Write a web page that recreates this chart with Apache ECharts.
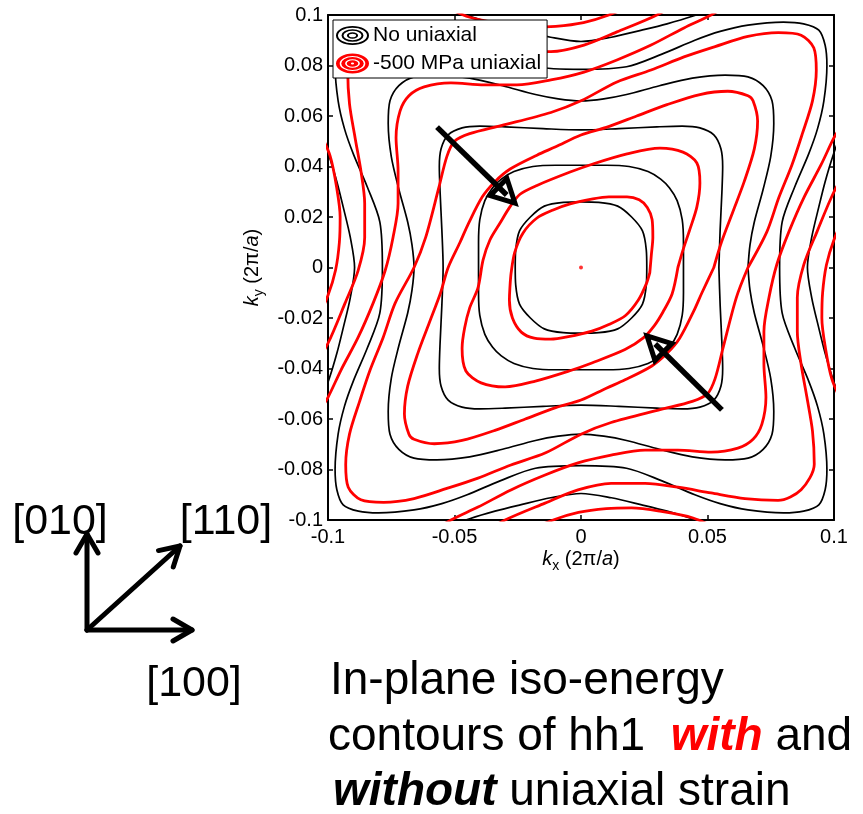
<!DOCTYPE html>
<html>
<head>
<meta charset="utf-8">
<script src="https://cdn.jsdelivr.net/npm/echarts@6/dist/echarts.min.js"></script>
<style>
  html, body { margin: 0; padding: 0; background: #fff; }
  #chart { width: 863px; height: 814px; }
</style>
</head>
<body>
<div id="chart"></div>
<script>
// ---- axes ----
const kRange = [-0.1, 0.1];
const xTickStep = 0.05;
const yTickStep = 0.02;

// ---- iso-energy contours of hh1, no uniaxial stress (kx, ky in 2π/a) ----
const noStressE1 = [[0.026,0],[0.0258,0.007],[0.0243,0.0145],[0.020,0.020],[0.0145,0.0243],[0.007,0.0258],[0,0.026],[-0.007,0.0258],[-0.0145,0.0243],[-0.020,0.020],[-0.0243,0.0145],[-0.0258,0.007],[-0.026,0],[-0.0258,-0.007],[-0.0243,-0.0145],[-0.020,-0.020],[-0.0145,-0.0243],[-0.007,-0.0258],[0,-0.026],[0.007,-0.0258],[0.0145,-0.0243],[0.020,-0.020],[0.0243,-0.0145],[0.0258,-0.007],[0.026,0]];
const noStressE2 = [[0.0405,0],[0.0405,0.010],[0.0400,0.019],[0.0380,0.0265],[0.0350,0.0315],[0.0315,0.0350],[0.0265,0.0380],[0.019,0.0400],[0.010,0.0405],[0,0.0405],[-0.010,0.0405],[-0.019,0.0400],[-0.0265,0.0380],[-0.0315,0.0350],[-0.0350,0.0315],[-0.0380,0.0265],[-0.0400,0.019],[-0.0405,0.010],[-0.0405,0],[-0.0405,-0.010],[-0.0400,-0.019],[-0.0380,-0.0265],[-0.0350,-0.0315],[-0.0315,-0.0350],[-0.0265,-0.0380],[-0.019,-0.0400],[-0.010,-0.0405],[0,-0.0405],[0.010,-0.0405],[0.019,-0.0400],[0.0265,-0.0380],[0.0315,-0.0350],[0.0350,-0.0315],[0.0380,-0.0265],[0.0400,-0.019],[0.0405,-0.010],[0.0405,0]];
const noStressE3 = [[0.0545,0],[0.0550,0.015],[0.0557,0.030],[0.0560,0.040],[0.0553,0.047],[0.0525,0.0525],[0.047,0.0553],[0.040,0.0560],[0.030,0.0557],[0.015,0.0550],[0,0.0545],[-0.015,0.0550],[-0.030,0.0557],[-0.040,0.0560],[-0.047,0.0553],[-0.0525,0.0525],[-0.0553,0.047],[-0.0560,0.040],[-0.0557,0.030],[-0.0550,0.015],[-0.0545,0],[-0.0550,-0.015],[-0.0557,-0.030],[-0.0560,-0.040],[-0.0553,-0.047],[-0.0525,-0.0525],[-0.047,-0.0553],[-0.040,-0.0560],[-0.030,-0.0557],[-0.015,-0.0550],[0,-0.0545],[0.015,-0.0550],[0.030,-0.0557],[0.040,-0.0560],[0.047,-0.0553],[0.0525,-0.0525],[0.0553,-0.047],[0.0560,-0.040],[0.0557,-0.030],[0.0550,-0.015],[0.0545,0]];
const noStressE4 = [[0.066,0],[0.0668,0.009],[0.0685,0.018],[0.072,0.031],[0.075,0.044],[0.0762,0.057],[0.0755,0.066],[0.072,0.072],[0.066,0.0755],[0.057,0.0762],[0.044,0.075],[0.031,0.072],[0.018,0.0685],[0.009,0.0668],[0,0.066],[-0.009,0.0668],[-0.018,0.0685],[-0.031,0.072],[-0.044,0.075],[-0.057,0.0762],[-0.066,0.0755],[-0.072,0.072],[-0.0755,0.066],[-0.0762,0.057],[-0.075,0.044],[-0.072,0.031],[-0.0685,0.018],[-0.0668,0.009],[-0.066,0],[-0.0668,-0.009],[-0.0685,-0.018],[-0.072,-0.031],[-0.075,-0.044],[-0.0762,-0.057],[-0.0755,-0.066],[-0.072,-0.072],[-0.066,-0.0755],[-0.057,-0.0762],[-0.044,-0.075],[-0.031,-0.072],[-0.018,-0.0685],[-0.009,-0.0668],[0,-0.066],[0.009,-0.0668],[0.018,-0.0685],[0.031,-0.072],[0.044,-0.075],[0.057,-0.0762],[0.066,-0.0755],[0.072,-0.072],[0.0755,-0.066],[0.0762,-0.057],[0.075,-0.044],[0.072,-0.031],[0.0685,-0.018],[0.0668,-0.009],[0.066,0]];
const noStressE5 = [[0.0785,0],[0.0795,0.018],[0.0845,0.032],[0.090,0.045],[0.0935,0.055],[0.0960,0.066],[0.0972,0.080],[0.0965,0.088],[0.094,0.094],[0.088,0.0965],[0.080,0.0972],[0.066,0.0960],[0.055,0.0935],[0.045,0.090],[0.032,0.0845],[0.018,0.0795],[0,0.0785],[-0.018,0.0795],[-0.032,0.0845],[-0.045,0.090],[-0.055,0.0935],[-0.066,0.0960],[-0.080,0.0972],[-0.088,0.0965],[-0.094,0.094],[-0.0965,0.088],[-0.0972,0.080],[-0.0960,0.066],[-0.0935,0.055],[-0.090,0.045],[-0.0845,0.032],[-0.0795,0.018],[-0.0785,0],[-0.0795,-0.018],[-0.0845,-0.032],[-0.090,-0.045],[-0.0935,-0.055],[-0.0960,-0.066],[-0.0972,-0.080],[-0.0965,-0.088],[-0.094,-0.094],[-0.088,-0.0965],[-0.080,-0.0972],[-0.066,-0.0960],[-0.055,-0.0935],[-0.045,-0.090],[-0.032,-0.0845],[-0.018,-0.0795],[0,-0.0785],[0.018,-0.0795],[0.032,-0.0845],[0.045,-0.090],[0.055,-0.0935],[0.066,-0.0960],[0.080,-0.0972],[0.088,-0.0965],[0.094,-0.094],[0.0965,-0.088],[0.0972,-0.080],[0.0960,-0.066],[0.0935,-0.055],[0.090,-0.045],[0.0845,-0.032],[0.0795,-0.018],[0.0785,0]];
const noStressE6Right = [[0.1035,-0.055],[0.0995,-0.044],[0.0965,-0.034],[0.094,-0.024],[0.0912,-0.012],[0.0895,0],[0.0912,0.012],[0.094,0.024],[0.0965,0.034],[0.0995,0.044],[0.1035,0.055]];
const noStressE6Left = [[-0.1035,-0.055],[-0.0995,-0.044],[-0.0965,-0.034],[-0.094,-0.024],[-0.0912,-0.012],[-0.0895,0],[-0.0912,0.012],[-0.094,0.024],[-0.0965,0.034],[-0.0995,0.044],[-0.1035,0.055]];
const noStressE6Top = [[-0.055,0.1035],[-0.044,0.0995],[-0.034,0.0965],[-0.024,0.094],[-0.012,0.0912],[0,0.0895],[0.012,0.0912],[0.024,0.094],[0.034,0.0965],[0.044,0.0995],[0.055,0.1035]];
const noStressE6Bottom = [[-0.055,-0.1035],[-0.044,-0.0995],[-0.034,-0.0965],[-0.024,-0.094],[-0.012,-0.0912],[0,-0.0895],[0.012,-0.0912],[0.024,-0.094],[0.034,-0.0965],[0.044,-0.0995],[0.055,-0.1035]];

// ---- iso-energy contours of hh1 under -500 MPa uniaxial stress ----
const stressE0 = [[0, 0]];
const stressE1 = [[0.0272,-0.0020],[0.0278,0.0050],[0.0284,0.0120],[0.0281,0.0190],[0.0262,0.0238],[0.0230,0.0268],[0.0182,0.0280],[0.0110,0.0280],[0.0047,0.0272],[-0.0043,0.0252],[-0.0110,0.0228],[-0.0174,0.0196],[-0.0229,0.0137],[-0.0262,0.0060],[-0.0276,-0.0020],[-0.0281,-0.0080],[-0.0283,-0.0130],[-0.0271,-0.0200],[-0.0236,-0.0256],[-0.0185,-0.0280],[-0.0120,-0.0284],[-0.0050,-0.0274],[0.0043,-0.0252],[0.0110,-0.0226],[0.0176,-0.0190],[0.0226,-0.0130],[0.0258,-0.0065],[0.0272,-0.0020]];
const stressE2 = [[0.0383,0.0000],[0.0403,0.0069],[0.0430,0.0150],[0.0458,0.0240],[0.0470,0.0335],[0.0458,0.0414],[0.0403,0.0457],[0.0312,0.0473],[0.0182,0.0450],[0.0047,0.0410],[-0.0043,0.0378],[-0.0174,0.0325],[-0.0241,0.0290],[-0.0281,0.0240],[-0.0320,0.0176],[-0.0360,0.0109],[-0.0387,0.0030],[-0.0407,-0.0080],[-0.0440,-0.0160],[-0.0460,-0.0240],[-0.0470,-0.0320],[-0.0455,-0.0410],[-0.0395,-0.0457],[-0.0300,-0.0473],[-0.0180,-0.0450],[-0.0047,-0.0410],[0.0043,-0.0378],[0.0174,-0.0325],[0.0245,-0.0280],[0.0290,-0.0230],[0.0324,-0.0176],[0.0360,-0.0105],[0.0383,0.0000]];
const stressE3 = [[0.0525,0],[0.0555,0.010],[0.0600,0.022],[0.0645,0.034],[0.0685,0.047],[0.0698,0.058],[0.0680,0.0660],[0.0660,0.0680],[0.0580,0.0698],[0.0470,0.0685],[0.0340,0.0645],[0.0220,0.0600],[0.0100,0.0555],[0,0.0525],[-0.0100,0.0478],[-0.0174,0.0445],[-0.0280,0.0390],[-0.0340,0.0340],[-0.0390,0.0280],[-0.0445,0.0174],[-0.0478,0.0100],[-0.0525,0],[-0.0555,-0.010],[-0.0600,-0.022],[-0.0645,-0.034],[-0.0685,-0.047],[-0.0698,-0.058],[-0.0680,-0.0660],[-0.0660,-0.0680],[-0.0580,-0.0698],[-0.0470,-0.0685],[-0.0340,-0.0645],[-0.0220,-0.0600],[-0.0100,-0.0555],[0,-0.0525],[0.0100,-0.0478],[0.0174,-0.0445],[0.0280,-0.0390],[0.0340,-0.0340],[0.0390,-0.0280],[0.0445,-0.0174],[0.0478,-0.0100],[0.0525,0]];
const stressE4 = [[0.0660,0],[0.0735,0.0142],[0.0782,0.0277],[0.0834,0.0407],[0.0875,0.0530],[0.0915,0.0660],[0.0930,0.0780],[0.0920,0.0870],[0.0870,0.0920],[0.0780,0.0930],[0.0660,0.0915],[0.0530,0.0875],[0.0407,0.0834],[0.0277,0.0782],[0.0142,0.0735],[0,0.0660],[-0.0119,0.0614],[-0.0316,0.0562],[-0.0440,0.0530],[-0.0500,0.0500],[-0.0530,0.0440],[-0.0562,0.0316],[-0.0614,0.0119],[-0.0660,0],[-0.0735,-0.0142],[-0.0782,-0.0277],[-0.0834,-0.0407],[-0.0875,-0.0530],[-0.0915,-0.0660],[-0.0930,-0.0780],[-0.0920,-0.0870],[-0.0870,-0.0920],[-0.0780,-0.0930],[-0.0660,-0.0915],[-0.0530,-0.0875],[-0.0407,-0.0834],[-0.0277,-0.0782],[-0.0142,-0.0735],[0,-0.0660],[0.0119,-0.0614],[0.0316,-0.0562],[0.0440,-0.0530],[0.0500,-0.0500],[0.0530,-0.0440],[0.0562,-0.0316],[0.0614,-0.0119],[0.0660,0]];
const stressE5Lower = [[-0.0580,-0.1040],[-0.0514,-0.1000],[-0.0407,-0.0949],[-0.0277,-0.0881],[-0.0142,-0.0822],[-0.0012,-0.0774],[0.0119,-0.0743],[0.0253,-0.0723],[0.0383,-0.0723],[0.0514,-0.0731],[0.0620,-0.0715],[0.0680,-0.0680],[0.0715,-0.0620],[0.0731,-0.0514],[0.0723,-0.0383],[0.0723,-0.0253],[0.0743,-0.0119],[0.0774,0.0012],[0.0822,0.0142],[0.0881,0.0277],[0.0949,0.0407],[0.1000,0.0514],[0.1040,0.0580]];
const stressE5Upper = [[0.0580,0.1040],[0.0514,0.1000],[0.0407,0.0949],[0.0277,0.0881],[0.0142,0.0822],[0.0012,0.0774],[-0.0119,0.0743],[-0.0253,0.0723],[-0.0383,0.0723],[-0.0514,0.0731],[-0.0620,0.0715],[-0.0680,0.0680],[-0.0715,0.0620],[-0.0731,0.0514],[-0.0723,0.0383],[-0.0723,0.0253],[-0.0743,0.0119],[-0.0774,-0.0012],[-0.0822,-0.0142],[-0.0881,-0.0277],[-0.0949,-0.0407],[-0.1000,-0.0514],[-0.1040,-0.0580]];
const stressE6Lower = [[-0.0400,-0.1060],[-0.0300,-0.1000],[-0.0142,-0.0933],[-0.0012,-0.0881],[0.0119,-0.0855],[0.0253,-0.0855],[0.0383,-0.0870],[0.0514,-0.0893],[0.0648,-0.0915],[0.0779,-0.0922],[0.0870,-0.0880],[0.0922,-0.0779],[0.0915,-0.0648],[0.0893,-0.0514],[0.0870,-0.0383],[0.0855,-0.0253],[0.0855,-0.0119],[0.0881,0.0012],[0.0933,0.0142],[0.1000,0.0300],[0.1060,0.0400]];
const stressE6Upper = [[0.0400,0.1060],[0.0300,0.1000],[0.0142,0.0933],[0.0012,0.0881],[-0.0119,0.0855],[-0.0253,0.0855],[-0.0383,0.0870],[-0.0514,0.0893],[-0.0648,0.0915],[-0.0779,0.0922],[-0.0870,0.0880],[-0.0922,0.0779],[-0.0915,0.0648],[-0.0893,0.0514],[-0.0870,0.0383],[-0.0855,0.0253],[-0.0855,0.0119],[-0.0881,-0.0012],[-0.0933,-0.0142],[-0.1000,-0.0300],[-0.1060,-0.0400]];
const stressE7Bottom = [[-0.0250,-0.1060],[-0.0110,-0.1000],[-0.0010,-0.0970],[0.0100,-0.0955],[0.0200,-0.0952],[0.0312,-0.0965],[0.0443,-0.0992],[0.0550,-0.1040]];
const stressE7Right = [[0.1060,0.0250],[0.1000,0.0110],[0.0970,0.0010],[0.0955,-0.0100],[0.0952,-0.0200],[0.0965,-0.0312],[0.0992,-0.0443],[0.1040,-0.0550]];
const stressE7Top = [[0.0250,0.1060],[0.0110,0.1000],[0.0010,0.0970],[-0.0100,0.0955],[-0.0200,0.0952],[-0.0312,0.0965],[-0.0443,0.0992],[-0.0550,0.1040]];
const stressE7Left = [[-0.1060,-0.0250],[-0.1000,-0.0110],[-0.0970,-0.0010],[-0.0955,0.0100],[-0.0952,0.0200],[-0.0965,0.0312],[-0.0992,0.0443],[-0.1040,0.0550]];

// ---- arrows drawn on the plot: [tail, tip] in (kx, ky) ----
const plotArrows = [
  [[-0.0569, 0.0556], [-0.0261, 0.0255]],
  [[0.0557, -0.0564], [0.0261, -0.0271]]
];

const seriesNames = ['No uniaxial', '-500 MPa uniaxial'];
const FONT = 'Liberation Sans';

const blackContours = [noStressE1, noStressE2, noStressE3, noStressE4, noStressE5,
  noStressE6Right, noStressE6Left, noStressE6Top, noStressE6Bottom];
const redContours = [stressE1, stressE2, stressE3, stressE4, stressE5Lower, stressE5Upper,
  stressE6Lower, stressE6Upper, stressE7Bottom, stressE7Right, stressE7Top, stressE7Left];

function contourSeries(name, color, width, pts) {
  return {
    type: 'line', name: name, data: pts, smooth: 0.3, showSymbol: false, symbol: 'none',
    clip: true, silent: true, animation: false,
    itemStyle: { color: color },
    lineStyle: { color: color, width: width, cap: 'round', join: 'round' }
  };
}

const series = [];
blackContours.forEach(p => series.push(contourSeries(seriesNames[0], '#000000', 1.7, p)));
redContours.forEach(p => series.push(contourSeries(seriesNames[1], '#ff0000', 2.8, p)));
series.push({
  type: 'scatter', name: seriesNames[1], data: stressE0, symbolSize: 4,
  itemStyle: { color: '#ff0000' }, silent: true, animation: false
});

// concentric-ellipse legend glyphs
function ellipse(cx, cy, rx, ry, cw) {
  const s = cw ? 1 : 0;
  return 'M' + (cx - rx) + ',' + cy + ' A' + rx + ',' + ry + ' 0 1,' + s + ' ' + (cx + rx) + ',' + cy +
         ' A' + rx + ',' + ry + ' 0 1,' + s + ' ' + (cx - rx) + ',' + cy + ' Z ';
}
function rings(cx, cy, list) {
  return 'path://' + list.map(r => ellipse(cx, cy, r[0], r[1], true) + ellipse(cx, cy, r[2], r[3], false)).join('');
}
const blackIcon = rings(16.5, 10, [[16.5, 9.5, 14.5, 7.7], [11, 6.3, 9, 4.7], [5.6, 3.3, 3.6, 1.8]]);
const redIcon = rings(16.5, 10, [[16.5, 10, 12.8, 7.5], [11.3, 6.5, 7.4, 4.2], [5.8, 3.3, 1.6, 1.0]]);

const axisLabelFmt = v => {
  const r = Math.round(v * 100) / 100;
  return r === 0 ? '0' : String(r);
};

const tickStyle = { inside: true, length: 5, lineStyle: { color: '#000', width: 1.5 } };
const lineStyleAxis = { onZero: false, lineStyle: { color: '#000', width: 2 } };
const labelStyle = { color: '#000', fontSize: 20, fontFamily: FONT };

const nameRich = {
  i: { fontStyle: 'italic', fontSize: 20, fontFamily: FONT, lineHeight: 28, color: '#000' },
  s: { fontSize: 14, fontFamily: FONT, lineHeight: 14, verticalAlign: 'bottom', color: '#000' }
};

const chart = echarts.init(document.getElementById('chart'), null, { renderer: 'canvas' });

chart.setOption({
  backgroundColor: '#ffffff',
  animation: false,
  grid: { left: 328, top: 15, width: 506, height: 505, containLabel: false },
  xAxis: [
    {
      type: 'value', min: kRange[0], max: kRange[1], interval: xTickStep, position: 'bottom',
      axisLine: lineStyleAxis, axisTick: tickStyle, splitLine: { show: false },
      axisLabel: Object.assign({ margin: 7, formatter: axisLabelFmt, showMinLabel: true, showMaxLabel: true }, labelStyle),
      name: '{i|k}{s|x} (2π/{i|a})', nameLocation: 'middle', nameGap: 25, nameMoveOverlap: false,
      nameTextStyle: { fontSize: 20, fontFamily: FONT, color: '#000', lineHeight: 28, rich: nameRich }
    },
    {
      type: 'value', min: kRange[0], max: kRange[1], interval: xTickStep, position: 'top',
      axisLine: lineStyleAxis, axisTick: tickStyle, splitLine: { show: false }, axisLabel: { show: false }
    }
  ],
  yAxis: [
    {
      type: 'value', min: kRange[0], max: kRange[1], interval: yTickStep, position: 'left',
      axisLine: lineStyleAxis, axisTick: tickStyle, splitLine: { show: false },
      axisLabel: Object.assign({ margin: 5, formatter: axisLabelFmt, showMinLabel: true, showMaxLabel: true }, labelStyle),
      name: '{i|k}{s|y} (2π/{i|a})', nameLocation: 'middle', nameGap: 62, nameRotate: 90,
      nameTextStyle: { fontSize: 20, fontFamily: FONT, color: '#000', lineHeight: 28, rich: nameRich }
    },
    {
      type: 'value', min: kRange[0], max: kRange[1], interval: yTickStep, position: 'right',
      axisLine: lineStyleAxis, axisTick: tickStyle, splitLine: { show: false }, axisLabel: { show: false }
    }
  ],
  legend: {
    left: 333, top: 20, orient: 'vertical', selectedMode: false,
    itemWidth: 33, itemHeight: 20, itemGap: 7, padding: [5, 6, 4, 3],
    backgroundColor: '#ffffff', borderColor: '#000', borderWidth: 1, borderRadius: 0,
    textStyle: { fontSize: 21, fontFamily: FONT, color: '#000', padding: [0, 0, 0, -1] },
    data: [
      { name: seriesNames[0], icon: blackIcon, itemStyle: { color: '#000', borderWidth: 0 } },
      { name: seriesNames[1], icon: redIcon, itemStyle: { color: '#ff0000', borderWidth: 0 } }
    ]
  },
  series: series
});

// ---- annotations ----
const gfx = [];

// plot arrows with open triangular heads
plotArrows.forEach(a => {
  const t = chart.convertToPixel({ gridIndex: 0 }, a[0]);
  const p = chart.convertToPixel({ gridIndex: 0 }, a[1]);
  const dx = p[0] - t[0], dy = p[1] - t[1];
  const len = Math.sqrt(dx * dx + dy * dy);
  const ux = dx / len, uy = dy / len, px = -uy, py = ux;
  const headLen = 23, halfW = 12;
  const bx = p[0] - ux * headLen, by = p[1] - uy * headLen;
  gfx.push({
    type: 'polygon', z: 100,
    shape: { points: [[p[0], p[1]], [bx + px * halfW, by + py * halfW], [bx - px * halfW, by - py * halfW]] },
    style: { fill: '#ffffff', stroke: '#000', lineWidth: 5, lineJoin: 'miter' }
  });
  gfx.push({
    type: 'polyline', z: 101,
    shape: { points: [[t[0], t[1]], [bx + ux * headLen * 0.5, by + uy * headLen * 0.5]] },
    style: { stroke: '#000', lineWidth: 5.5, fill: null }
  });
});

// crystal direction diagram
const origin = [87, 630];
const dirTips = [[87, 534], [192, 630], [180, 546]];
dirTips.forEach(tip => {
  const dx = tip[0] - origin[0], dy = tip[1] - origin[1];
  const len = Math.sqrt(dx * dx + dy * dy);
  const ux = dx / len, uy = dy / len, px = -uy, py = ux;
  const L = 19, W = 11;
  gfx.push({
    type: 'polyline', shape: { points: [origin, tip] },
    style: { stroke: '#000', lineWidth: 5, lineCap: 'round', fill: null }
  });
  gfx.push({
    type: 'polyline',
    shape: { points: [[tip[0] - ux * L + px * W, tip[1] - uy * L + py * W], tip, [tip[0] - ux * L - px * W, tip[1] - uy * L - py * W]] },
    style: { stroke: '#000', lineWidth: 5, lineCap: 'round', lineJoin: 'round', fill: null }
  });
});
const dirLabels = [['[010]', 60, 522], ['[110]', 226, 522], ['[100]', 194, 684]];
dirLabels.forEach(d => gfx.push({
  type: 'text', x: d[1], y: d[2],
  style: { text: d[0], fontSize: 43, fontFamily: FONT, fill: '#000', align: 'center', verticalAlign: 'middle' }
}));

// caption
const captionRich = {
  r: { fill: '#ff0000', fontWeight: 'bold', fontStyle: 'italic', fontSize: 46, fontFamily: FONT },
  b: { fill: '#000', fontWeight: 'bold', fontStyle: 'italic', fontSize: 46, fontFamily: FONT }
};
const captionLines = [
  ['In-plane iso-energy', 330, 681],
  ['contours of hh1  {r|with} and', 328, 737],
  ['{b|without} uniaxial strain', 333, 792]
];
captionLines.forEach(c => gfx.push({
  type: 'text', x: c[1], y: c[2],
  style: { text: c[0], fontSize: 46, fontFamily: FONT, fill: '#000', align: 'left', verticalAlign: 'middle', rich: captionRich }
}));

chart.setOption({ graphic: gfx });
</script>
</body>
</html>
